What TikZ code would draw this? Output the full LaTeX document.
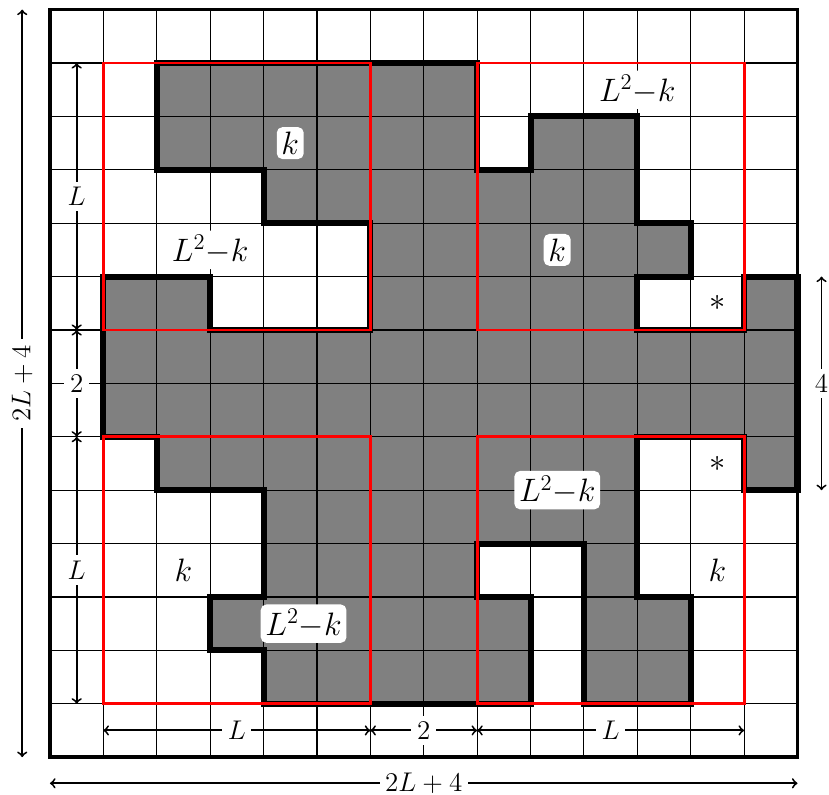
\documentclass[tikz,border=0pt]{standalone}
\usetikzlibrary{positioning}
\tikzset{
  tag/.style={fill=white, rounded corners=3pt, inner sep=2.5pt, font=\LARGE},
  dimline/.style={<->, line width=1pt},
  dimtag/.style={fill=white, inner sep=3pt, font=\Large},
}
\begin{document}
\begin{tikzpicture}
  \useasboundingbox (-0.936,-0.693) rectangle (14.59,14.18);
  % cluster
  \fill[gray] (2,13) -- (8,13) -- (8,11) -- (9,11) -- (9,12) -- (11,12)
    -- (11,10) -- (12,10) -- (12,9) -- (11,9) -- (11,8) -- (13,8)
    -- (13,9) -- (14,9) -- (14,5) -- (13,5) -- (13,6) -- (11,6)
    -- (11,3) -- (12,3) -- (12,1) -- (10,1) -- (10,4) -- (8,4)
    -- (8,3) -- (9,3) -- (9,1) -- (4,1) -- (4,2) -- (3,2) -- (3,3)
    -- (4,3) -- (4,5) -- (2,5) -- (2,6) -- (1,6) -- (1,9) -- (3,9)
    -- (3,8) -- (6,8) -- (6,10) -- (4,10) -- (4,11) -- (2,11) -- cycle;
  \draw[line width=0.6pt] (0,0) grid (14,14);
  \draw[line width=3.2pt, line join=miter] (2,13) -- (8,13) -- (8,11) -- (9,11) -- (9,12) -- (11,12)
    -- (11,10) -- (12,10) -- (12,9) -- (11,9) -- (11,8) -- (13,8)
    -- (13,9) -- (14,9) -- (14,5) -- (13,5) -- (13,6) -- (11,6)
    -- (11,3) -- (12,3) -- (12,1) -- (10,1) -- (10,4) -- (8,4)
    -- (8,3) -- (9,3) -- (9,1) -- (4,1) -- (4,2) -- (3,2) -- (3,3)
    -- (4,3) -- (4,5) -- (2,5) -- (2,6) -- (1,6) -- (1,9) -- (3,9)
    -- (3,8) -- (6,8) -- (6,10) -- (4,10) -- (4,11) -- (2,11) -- cycle;
  % blocks
  \begin{scope}[red, line width=1.5pt]
    \draw (1,8) rectangle (6,13);
    \draw (8,8) rectangle (13,13);
    \draw (1,1) rectangle (6,6);
    \draw (8,1) rectangle (13,6);
  \end{scope}
  \draw[line width=2pt] (0,0) rectangle (14,14);
  % labels
  \node[tag] (k1) at (4.5,11.5) {$k$};
  \node[tag] (m1) at (11,12.5) {$L^2{-}k$};
  \node[tag] (m2) at (3,9.5) {$L^2{-}k$};
  \node[tag] (k2) at (9.5,9.5) {$k$};
  \node[tag] (s1) at (12.5,8.5) {$*$};
  \node[tag] (s2) at (12.5,5.5) {$*$};
  \node[tag] (m3) at (9.5,5) {$L^2{-}k$};
  \node[tag] (k3) at (2.5,3.5) {$k$};
  \node[tag] (k4) at (12.5,3.5) {$k$};
  \node[tag] (m4) at (4.75,2.5) {$L^2{-}k$};
  % dimensions
  \coordinate (l0) at (0.5,13);
  \coordinate (l1) at (0.5,8);
  \coordinate (l2) at (0.5,6);
  \coordinate (l3) at (0.5,1);
  \coordinate (b0) at (1,0.5);
  \coordinate (b1) at (6,0.5);
  \coordinate (b2) at (8,0.5);
  \coordinate (b3) at (13,0.5);
  \coordinate (r0) at (14.45,9);
  \coordinate (r1) at (14.45,5);
  \coordinate (o0) at (-0.52,14);
  \coordinate (o1) at (-0.52,0);
  \coordinate (o2) at (0,-0.49);
  \coordinate (o3) at (14,-0.49);
  \draw[dimline] (l0) -- node[dimtag] (lL1) {$L$} (l1);
  \draw[dimline] (l1) -- node[dimtag] (l2n) {$2$} (l2);
  \draw[dimline] (l2) -- node[dimtag] (lL2) {$L$} (l3);
  \draw[dimline] (b0) -- node[dimtag] (bL1) {$L$} (b1);
  \draw[dimline] (b1) -- node[dimtag] (b2n) {$2$} (b2);
  \draw[dimline] (b2) -- node[dimtag] (bL2) {$L$} (b3);
  \draw[dimline] (r0) -- node[dimtag] (r4) {$4$} (r1);
  \draw[dimline] (o0) -- node[dimtag, rotate=90] (oV) {$2L+4$} (o1);
  \draw[dimline] (o2) -- node[dimtag] (oH) {$2L+4$} (o3);
\end{tikzpicture}
\end{document}
